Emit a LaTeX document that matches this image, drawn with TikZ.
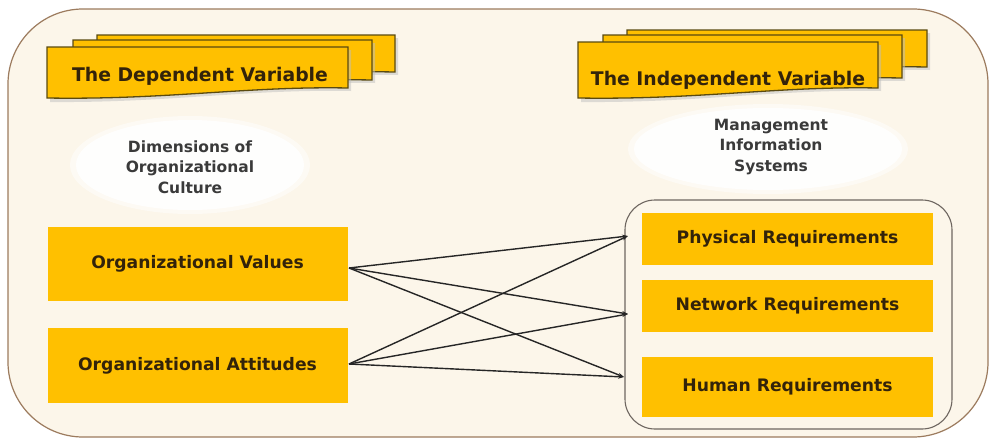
\documentclass[tikz,border=0pt]{standalone}
\usepackage{fontspec}
\setmainfont{DejaVu Sans}
\usetikzlibrary{arrows.meta}
\definecolor{gold}{HTML}{FFC000}
\definecolor{cream}{HTML}{FCF6EA}
\definecolor{frame}{HTML}{9C7B5E}
\definecolor{cardline}{HTML}{5A4A10}
\definecolor{txt}{HTML}{33230A}
\definecolor{softtxt}{HTML}{3A3A3A}
\definecolor{contline}{HTML}{6E6660}
\tikzset{
  goldbox/.style={fill=gold, draw=none, font=\bfseries\fontsize{17.2}{20}\selectfont, text=txt},
  cardshape/.style={fill=gold, draw=cardline, line width=1.3pt},
  cardshadow/.style={fill=black!25, draw=none, opacity=0.5},
  ovaltext/.style={font=\bfseries\fontsize{15.5}{20.5}\selectfont, text=softtxt, align=center},
  headtext/.style={font=\bfseries\fontsize{18.8}{20}\selectfont, text=txt},
  link/.style={draw=black!85, line width=1.4pt, -{Stealth[length=6pt,width=4pt]}},
}
\newcommand{\mycard}[4]{% x1,y1,x2,y2
  \fill[cardshadow] (#1+3,#2+3) -- (#3+3,#2+3) -- (#3+3,#4-7) .. controls (#3-100,#4-9) and (#1+120,#4+5) .. (#1+3,#4+4) -- cycle;
  \draw[cardshape] (#1,#2) -- (#3,#2) -- (#3,#4-10) .. controls (#3-100,#4-12) and (#1+120,#4+2) .. (#1,#4) -- cycle;
}
\begin{document}
\begin{tikzpicture}[x=1pt,y=-1pt]
\useasboundingbox (0,0) rectangle (991,439);
\fill[white] (0,0) rectangle (991,439);
% outer frame
\draw[fill=cream, draw=frame, line width=1.2pt, rounded corners=75pt] (8,9) rectangle (988,437);

% dependent cards
\mycard{97}{35}{395}{82}
\mycard{73}{40}{372}{90}
\mycard{47}{47}{348}{98}
\node[headtext] (dep) at (200,76) {The Dependent Variable};

% independent cards
\mycard{627}{30}{927}{77}
\mycard{603}{35}{902}{88}
\mycard{578}{42}{878}{98}
\node[headtext] (indep) at (728,80) {The Independent Variable};

% ovals
\fill[white, opacity=0.5] (190,165) ellipse [x radius=120, y radius=49];
\fill[white, opacity=0.9] (190,165) ellipse [x radius=114, y radius=45];
\node[ovaltext] (dim) at (190,167) {Dimensions of\\Organizational\\Culture};
\fill[white, opacity=0.5] (768,149) ellipse [x radius=140, y radius=45];
\fill[white, opacity=0.9] (768,149) ellipse [x radius=134, y radius=41];
\node[ovaltext] (mis) at (771,147) {Management\\Information\\Systems};

% left boxes
\node[goldbox, minimum width=300pt, minimum height=74pt] (val) at (197.5,264) {Organizational Values};
\node[goldbox, minimum width=300pt, minimum height=75pt] (att) at (197.5,365.5) {Organizational Attitudes};

% right container
\draw[draw=contline, line width=1.1pt, rounded corners=30pt] (625,200) rectangle (952,429);
\node[goldbox, minimum width=291pt, minimum height=52pt] (phy) at (787.5,239) {Physical Requirements};
\node[goldbox, minimum width=291pt, minimum height=52pt] (net) at (787.5,306) {Network Requirements};
\node[goldbox, minimum width=291pt, minimum height=60pt] (hum) at (787.5,387) {Human Requirements};

% connector anchors
\coordinate (v0) at (349,268);
\coordinate (a0) at (349,364);
\coordinate (p1) at (628,236);
\coordinate (n1) at (628,314);
\coordinate (h1) at (624,377);
\draw[link] (v0) -- (p1);
\draw[link] (v0) -- (n1);
\draw[link] (v0) -- (h1);
\draw[link] (a0) -- (p1);
\draw[link] (a0) -- (n1);
\draw[link] (a0) -- (h1);
\end{tikzpicture}
\end{document}
